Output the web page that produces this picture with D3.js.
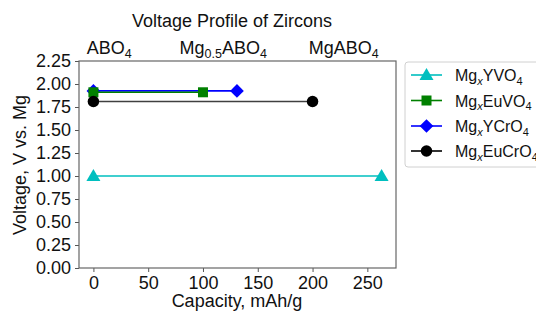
<!DOCTYPE html>
<html>
<head>
<meta charset="utf-8">
<title>Voltage Profile of Zircons</title>
<script src="https://cdn.jsdelivr.net/npm/d3@7"></script>
<style>
  body { margin: 0; background: #fff; }
  svg { font-family: "Liberation Sans", Arial, sans-serif; }
</style>
</head>
<body>
<svg id="chart" width="536" height="313"></svg>
<script>
// data
const capYV   = [0, 263];   const voltYV   = [1.00, 1.00];
const capEuV  = [0, 100];   const voltEuV  = [1.91, 1.91];
const capYCr  = [0, 131];   const voltYCr  = [1.925, 1.925];
const capEuCr = [0, 200];   const voltEuCr = [1.81, 1.81];

const yTicks = [0, 0.25, 0.5, 0.75, 1.0, 1.25, 1.5, 1.75, 2.0, 2.25];
const xTicks = [0, 50, 100, 150, 200, 250];
const topTickPos = [14, 118, 228];
const topTickLabels = [["ABO", "4"], ["Mg", "0.5", "ABO", "4"], ["MgABO", "4"]];

// series: name parts [text, sub, text, sub], colour, marker
const series = [
  {name: ["Mg", "x", "YVO", "4"],   cap: capYV,   volt: voltYV,   color: "#00bfbf", marker: "tri"},
  {name: ["Mg", "x", "EuVO", "4"],  cap: capEuV,  volt: voltEuV,  color: "#008000", marker: "sq"},
  {name: ["Mg", "x", "YCrO", "4"],  cap: capYCr,  volt: voltYCr,  color: "#0000ff", marker: "dia"},
  {name: ["Mg", "x", "EuCrO", "4"], cap: capEuCr, volt: voltEuCr, color: "#000000", marker: "circ"}
];
const drawOrder = [0, 2, 1, 3];

const pLeft = 79, pRight = 396, pTop = 61, pBottom = 268;
const svg = d3.select("#chart");

const x = d3.scaleLinear().domain([-13.15, 276.15]).range([pLeft, pRight]);
const y = d3.scaleLinear().domain([0, 2.25]).range([pBottom, pTop]);

// axes
const fmtY = d3.format(".2f");
svg.append("g")
  .attr("transform", "translate(" + pLeft + ",0)")
  .call(d3.axisLeft(y).tickValues(yTicks).tickFormat(fmtY).tickSize(4).tickPadding(4))
  .call(g => g.select(".domain").remove())
  .call(g => g.selectAll("line").attr("stroke", "#555"))
  .call(g => g.selectAll("text").attr("font-size", 18).attr("fill", "#111").attr("font-family", "Liberation Sans"));

svg.append("g")
  .attr("transform", "translate(0," + pBottom + ")")
  .call(d3.axisBottom(x).tickValues(xTicks).tickSize(4).tickPadding(4))
  .call(g => g.select(".domain").remove())
  .call(g => g.selectAll("line").attr("stroke", "#555"))
  .call(g => g.selectAll("text").attr("font-size", 18).attr("fill", "#111").attr("font-family", "Liberation Sans"));

// top labels
const topAxis = svg.append("g")
  .attr("transform", "translate(0," + pTop + ")")
  .call(d3.axisTop(x).tickValues(topTickPos).tickSize(0).tickPadding(7));
topAxis.select(".domain").remove();
topAxis.selectAll("text").each(function(d, i) {
  const t = d3.select(this).text(null)
    .attr("font-size", 18).attr("fill", "#111").attr("font-family", "Liberation Sans");
  topTickLabels[i].forEach(function(part, j) {
    const sub = j % 2 === 1;
    t.append("tspan")
      .attr("font-size", sub ? 12.5 : 18)
      .attr("dy", sub ? 4 : (j > 0 ? -4 : 0))
      .text(part);
  });
});

// frame
svg.append("rect")
  .attr("x", pLeft).attr("y", pTop)
  .attr("width", pRight - pLeft).attr("height", pBottom - pTop)
  .attr("fill", "none").attr("stroke", "#666").attr("stroke-width", 1.2);

// marker drawing
function drawMarker(g, type, cx, cy, color, s) {
  if (type === "tri") {
    g.append("path").attr("d", d3.symbol(d3.symbolTriangle, s * 8.5)())
      .attr("transform", "translate(" + cx + "," + (cy + 1) + ")").attr("fill", color);
  } else if (type === "sq") {
    g.append("rect").attr("x", cx - s / 2).attr("y", cy - s / 2)
      .attr("width", s).attr("height", s).attr("fill", color);
  } else if (type === "dia") {
    g.append("path").attr("d", d3.symbol(d3.symbolDiamond2, s * s * 1.2)())
      .attr("transform", "translate(" + cx + "," + cy + ")").attr("fill", color);
  } else {
    g.append("circle").attr("cx", cx).attr("cy", cy).attr("r", s / 2).attr("fill", color);
  }
}

const line = d3.line().x(d => x(d[0])).y(d => y(d[1]));
const plot = svg.append("g");
drawOrder.forEach(function(k) {
  const s = series[k];
  const pts = s.cap.map((c, i) => [c, s.volt[i]]);
  plot.append("path").datum(pts)
    .attr("d", line)
    .attr("fill", "none")
    .attr("stroke", s.color)
    .attr("stroke-width", 1.6)
    .attr("opacity", s.marker === "circ" ? 0.75 : 1);
  pts.forEach(p => drawMarker(plot, s.marker, x(p[0]), y(p[1]), s.color, s.marker === "circ" ? 11.5 : 10));
});

// title and axis labels
svg.append("text").attr("x", 232).attr("y", 27).attr("text-anchor", "middle")
  .attr("font-size", 18).attr("fill", "#111").text("Voltage Profile of Zircons");

svg.append("text").attr("x", 237).attr("y", 307).attr("text-anchor", "middle")
  .attr("font-size", 18).attr("fill", "#111").text("Capacity, mAh/g");

svg.append("text").attr("transform", "translate(26,165) rotate(-90)")
  .attr("text-anchor", "middle").attr("font-size", 18).attr("fill", "#111")
  .text("Voltage, V vs. Mg");

// legend
const leg = svg.append("g");
leg.append("rect").attr("x", 405).attr("y", 62).attr("width", 140).attr("height", 105)
  .attr("rx", 3).attr("fill", "#fff").attr("stroke", "#d0d0d0");
const legY = [75, 100.5, 126, 151];
series.forEach(function(s, i) {
  const ly = legY[i];
  leg.append("line").attr("x1", 411).attr("x2", 442).attr("y1", ly).attr("y2", ly)
    .attr("stroke", s.color).attr("stroke-width", 1.6);
  drawMarker(leg, s.marker, 426.5, ly, s.color, s.marker === "circ" ? 11.5 : 10);
  const t = leg.append("text").attr("x", 455).attr("y", ly + 6)
    .attr("font-size", 16).attr("fill", "#111");
  s.name.forEach(function(part, j) {
    const sub = j % 2 === 1;
    t.append("tspan")
      .attr("font-size", sub ? 11 : 16)
      .attr("font-style", j === 1 ? "italic" : null)
      .attr("dy", sub ? 3.5 : (j > 0 ? -3.5 : 0))
      .text(part);
  });
});
</script>
</body>
</html>
